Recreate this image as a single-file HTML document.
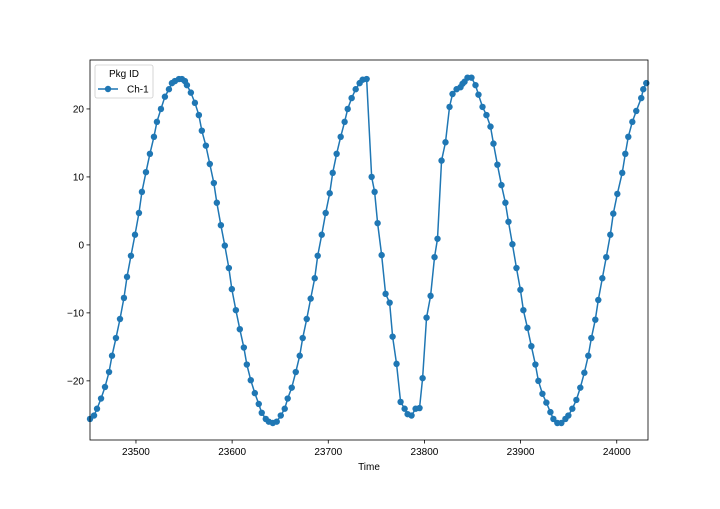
<!DOCTYPE html>
<html><head><meta charset="utf-8"><style>
body{margin:0;background:#fff;font-family:"Liberation Sans",sans-serif}
svg text{font-family:"Liberation Sans",sans-serif;font-size:10px;fill:#000}
</style></head><body>
<svg id="chart" width="720" height="504">
<rect x="0" y="0" width="720" height="504" fill="#fff"/>
<g id="plot"></g>
<g id="axes"></g>
</svg>
<script>
const times=[23452.2,23456.4,23459.5,23463.7,23467.8,23472.0,23475.1,23479.2,23483.4,23487.5,23490.7,23494.8,23499.0,23503.1,23506.2,23510.4,23514.5,23518.7,23521.8,23526.0,23530.1,23534.3,23537.4,23540.5,23544.7,23547.8,23550.9,23553.0,23557.1,23561.3,23565.4,23568.5,23572.7,23576.8,23581.0,23584.1,23588.3,23592.4,23596.6,23599.7,23603.9,23608.0,23612.2,23615.3,23619.4,23623.6,23627.7,23630.8,23635.0,23638.1,23642.3,23646.4,23650.6,23654.7,23657.8,23662.0,23666.2,23670.3,23673.4,23677.6,23681.7,23685.9,23689.0,23693.2,23697.3,23701.5,23704.6,23708.7,23712.9,23717.0,23720.2,23724.3,23728.5,23732.6,23735.7,23739.9,23745.1,23748.2,23751.3,23755.5,23759.6,23763.8,23766.9,23771.0,23775.2,23779.4,23782.5,23786.6,23790.8,23794.9,23798.1,23802.2,23806.4,23810.5,23813.6,23817.8,23821.9,23826.1,23829.2,23833.4,23837.5,23839.6,23841.7,23844.8,23848.9,23853.1,23856.2,23860.4,23864.5,23868.7,23871.8,23875.9,23880.1,23884.2,23887.4,23891.5,23895.7,23899.8,23902.9,23907.1,23911.2,23915.4,23918.5,23922.7,23926.8,23931.0,23934.1,23938.2,23942.4,23946.6,23949.7,23953.8,23958.0,23962.1,23966.3,23970.4,23973.6,23977.7,23980.8,23985.0,23989.1,23993.3,23996.4,24000.6,24005.7,24008.9,24012.0,24016.2,24020.3,24025.5,24027.6,24030.7];
const values=[-25.6,-25.1,-24.1,-22.6,-20.9,-18.7,-16.3,-13.7,-10.9,-7.8,-4.7,-1.6,1.5,4.7,7.8,10.7,13.4,15.9,18.1,20.0,21.8,22.9,23.8,24.1,24.4,24.4,24.1,23.5,22.4,20.9,19.1,16.8,14.6,11.9,9.1,6.2,2.9,-0.1,-3.4,-6.5,-9.6,-12.4,-15.1,-17.6,-19.9,-21.8,-23.4,-24.7,-25.6,-26.0,-26.2,-26.0,-25.1,-24.1,-22.6,-21.0,-18.7,-16.3,-13.7,-10.9,-7.9,-4.9,-1.6,1.5,4.7,7.6,10.6,13.4,15.9,18.1,20.0,21.6,22.9,23.8,24.3,24.4,10.0,7.8,3.2,-1.5,-7.2,-8.5,-13.5,-17.5,-23.1,-24.1,-24.9,-25.1,-24.1,-24.0,-19.6,-10.7,-7.5,-1.8,0.9,12.4,15.1,20.3,22.2,22.9,23.2,23.7,24.0,24.6,24.6,23.5,22.1,20.3,19.1,17.4,14.9,11.8,8.8,6.2,3.4,0.1,-3.4,-6.6,-9.6,-12.2,-14.9,-17.6,-20.0,-21.9,-23.2,-24.6,-25.6,-26.2,-26.2,-25.6,-25.1,-24.1,-22.8,-21.0,-18.8,-16.3,-13.7,-11.0,-8.1,-4.9,-1.8,1.5,4.6,7.5,10.6,13.4,15.9,18.1,19.7,21.6,22.9,23.8];
const xTicks=[23500,23600,23700,23800,23900,24000];
const yTicks=[-20,-10,0,10,20];
const xDomain=[23452.2,24032.5], yDomain=[-28.7,27.2];
const L=90,R=648,T=60,B=440;
const NS="http://www.w3.org/2000/svg";
const sx=v=>L+(v-xDomain[0])/(xDomain[1]-xDomain[0])*(R-L);
const sy=v=>B-(v-yDomain[0])/(yDomain[1]-yDomain[0])*(B-T);
function mk(tag,attrs,parent){const e=document.createElementNS(NS,tag);for(const k in attrs)e.setAttribute(k,attrs[k]);parent.appendChild(e);return e;}
const plot=document.getElementById('plot'), axes=document.getElementById('axes');
const line=mk('polyline',{points:times.map((t,i)=>sx(t)+','+sy(values[i])).join(' '),fill:'none',stroke:'#1f77b4','stroke-width':1.5},plot);


times.forEach((t,i)=>{const c=mk('circle',{cx:sx(t),cy:sy(values[i]),r:3.2,fill:'#1f77b4'},plot);

});
const frame=mk('rect',{x:L,y:T,width:R-L,height:B-T,fill:'none',stroke:'#000','stroke-width':0.8},axes);


xTicks.forEach(v=>{const x=sx(v);mk('line',{x1:x,x2:x,y1:B,y2:B+3.5,stroke:'#000','stroke-width':0.8},axes);
const tx=mk('text',{x:x,y:B+15,'text-anchor':'middle'},axes);tx.textContent=v;

});
yTicks.forEach(v=>{const y=sy(v);mk('line',{x1:L-3.5,x2:L,y1:y,y2:y,stroke:'#000','stroke-width':0.8},axes);
const tx=mk('text',{x:L-6,y:y+3.5,'text-anchor':'end'},axes);tx.textContent=v<0?'\u2212'+Math.abs(v):v;

});
const xl=mk('text',{x:(L+R)/2,y:470,'text-anchor':'middle'},axes);xl.textContent='Time';


const lg=mk('g',{},axes);


mk('rect',{x:95,y:65,width:58,height:33,rx:2,fill:'#fff','fill-opacity':0.8,stroke:'#ccc','stroke-width':0.8},lg);
const lt=mk('text',{x:124,y:77,'text-anchor':'middle'},lg);lt.textContent='Pkg ID';


mk('line',{x1:98,x2:118,y1:89,y2:89,stroke:'#1f77b4','stroke-width':1.5},lg);
mk('circle',{cx:108,cy:89,r:3.2,fill:'#1f77b4'},lg);
const le=mk('text',{x:127,y:92.5},lg);le.textContent='Ch-1';


</script>
</body></html>
